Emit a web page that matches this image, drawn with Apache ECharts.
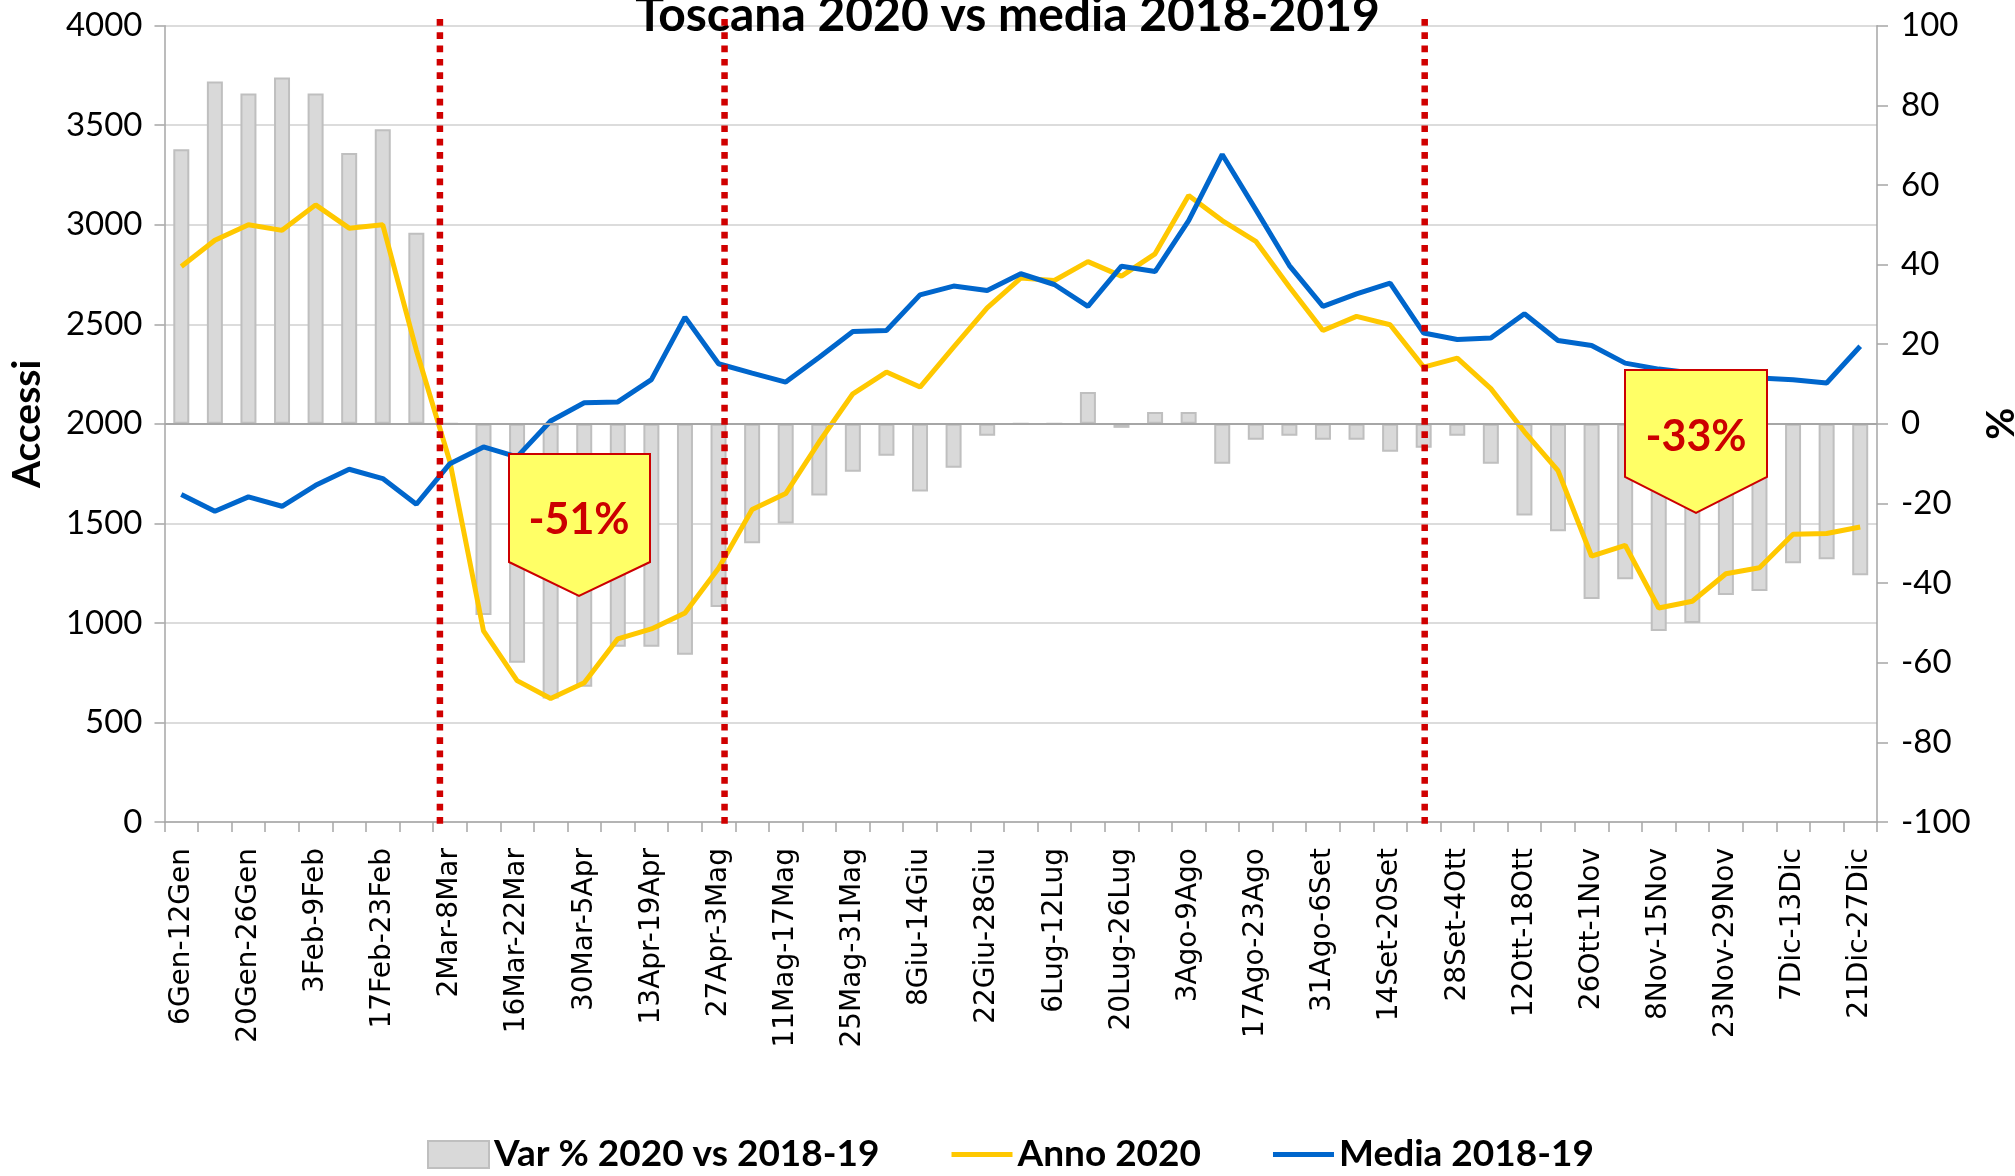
<!DOCTYPE html>
<html>
<head>
<meta charset="utf-8">
<title>Toscana 2020 vs media 2018-2019</title>
<script src="https://cdn.jsdelivr.net/npm/echarts@6/dist/echarts.min.js"></script>
<style>
  html, body { margin: 0; padding: 0; background: #ffffff; }
  #chart { width: 2015px; height: 1176px; }
</style>
</head>
<body>
<div id="chart"></div>
<script>
// settimane 2020 (una ogni due etichette viene mostrata)
const weeks = [
  "6Gen-12Gen", "13Gen-19Gen", "20Gen-26Gen", "27Gen-2Feb", "3Feb-9Feb",
  "10Feb-16Feb", "17Feb-23Feb", "24Feb-1Mar", "2Mar-8Mar", "9Mar-15Mar",
  "16Mar-22Mar", "23Mar-29Mar", "30Mar-5Apr", "6Apr-12Apr", "13Apr-19Apr",
  "20Apr-26Apr", "27Apr-3Mag", "4Mag-10Mag", "11Mag-17Mag", "18Mag-24Mag",
  "25Mag-31Mag", "1Giu-7Giu", "8Giu-14Giu", "15Giu-21Giu", "22Giu-28Giu",
  "29Giu-5Lug", "6Lug-12Lug", "13Lug-19Lug", "20Lug-26Lug", "27Lug-2Ago",
  "3Ago-9Ago", "10Ago-16Ago", "17Ago-23Ago", "24Ago-30Ago", "31Ago-6Set",
  "7Set-13Set", "14Set-20Set", "21Set-27Set", "28Set-4Ott", "5Ott-11Ott",
  "12Ott-18Ott", "19Ott-25Ott", "26Ott-1Nov", "2Nov-8Nov", "8Nov-15Nov",
  "16Nov-22Nov", "23Nov-29Nov", "30Nov-6Dic", "7Dic-13Dic", "14Dic-20Dic",
  "21Dic-27Dic"
];

// Var % 2020 vs 2018-19 (asse destro)
const varPct = [
  69, 86, 83, 87, 83, 68, 74, 48, 0, -48,
  -60, -69, -66, -56, -56, -58, -46, -30, -25, -18,
  -12, -8, -17, -11, -3, 0, 0, 8, -1, 3,
  3, -10, -4, -3, -4, -4, -7, -6, -3, -10,
  -23, -27, -44, -39, -52, -50, -43, -42, -35, -34,
  -38
];

// Accessi anno 2020
const anno2020 = [
  2790, 2922, 3000, 2972, 3100, 2983, 3000, 2370, 1810, 960,
  710, 620, 700, 920, 970, 1050, 1275, 1570, 1650, 1910,
  2151, 2260, 2185, 2385, 2583, 2732, 2720, 2815, 2742, 2854,
  3147, 3021, 2917, 2687, 2469, 2540, 2498, 2285, 2330, 2177,
  1960, 1765, 1335, 1390, 1075, 1109, 1247, 1277, 1445, 1449,
  1482
];

// Accessi media 2018-19
const media1819 = [
  1645, 1561, 1633, 1586, 1691, 1772, 1725, 1596, 1800, 1884,
  1834, 2014, 2106, 2110, 2222, 2536, 2302, 2255, 2210, 2335,
  2464, 2469, 2648, 2692, 2670, 2754, 2700, 2590, 2792, 2765,
  3021, 3353, 3076, 2795, 2590, 2653, 2707, 2456, 2424, 2431,
  2553, 2419, 2394, 2305, 2275, 2255, 2240, 2230, 2222, 2205,
  2390
];

// settimane con le linee tratteggiate rosse (disegnate a mano nell'originale,
// quindi con un piccolo scostamento dal centro della categoria)
const markedWeeks = ["2Mar-8Mar", "27Apr-3Mag", "21Set-27Set"];
const markedShift = [-10, 6, 1];

// scale degli assi
const leftScale = { min: 0, max: 4000, step: 500 };
const rightScale = { min: -100, max: 100, step: 20 };

const FONT = "Lato";
const AXIS_GREY = "#a6a6a6";

const chart = echarts.init(document.getElementById("chart"));

// icona legenda "linea": barra sottile dentro un box 61x27
const lineIcon = "path://M0,0M61,27M0,11L61,11L61,16L0,16Z";

// riquadri gialli con il calo percentuale
const callouts = [
  {
    type: "polygon",
    z: 100,
    shape: { points: [[509, 454], [650, 454], [650, 562], [579, 596], [509, 562]] },
    style: { fill: "#ffff66", stroke: "#cc0000", lineWidth: 2 },
  },
  {
    type: "text",
    z: 101,
    x: 579,
    y: 520,
    style: {
      text: "-51%", fill: "#cc0000", font: "bold 43px Lato",
      textAlign: "center", textVerticalAlign: "middle",
    },
  },
  {
    type: "polygon",
    z: 100,
    shape: { points: [[1625, 370], [1767, 370], [1767, 477], [1696, 513], [1625, 477]] },
    style: { fill: "#ffff66", stroke: "#cc0000", lineWidth: 2 },
  },
  {
    type: "text",
    z: 101,
    x: 1696,
    y: 437,
    style: {
      text: "-33%", fill: "#cc0000", font: "bold 43px Lato",
      textAlign: "center", textVerticalAlign: "middle",
    },
  },
];

const option = {
  animation: false,
  backgroundColor: "#ffffff",
  title: {
    text: "Toscana 2020 vs media 2018-2019",
    left: "center",
    top: -13,
    textStyle: { fontFamily: FONT, fontSize: 48, fontWeight: "bold", color: "#000" },
  },
  grid: { left: 164.5, right: 138, top: 25.7, bottom: 354, outerBoundsMode: "none" },
  legend: {
    left: 427,
    top: 1136,
    padding: 0,
    itemGap: 72,
    itemWidth: 61,
    itemHeight: 27,
    textStyle: { fontFamily: FONT, fontSize: 37, fontWeight: "bold", color: "#000" },
    data: [
      { name: "Var % 2020 vs 2018-19", icon: "rect" },
      { name: "Anno 2020", icon: lineIcon },
      { name: "Media 2018-19", icon: lineIcon },
    ],
  },
  xAxis: {
    type: "category",
    data: weeks,
    boundaryGap: true,
    axisLine: { lineStyle: { color: AXIS_GREY, width: 1.5 } },
    axisTick: { show: true, interval: 0, length: 10, lineStyle: { color: AXIS_GREY, width: 1.5 } },
    axisLabel: {
      interval: 1,
      rotate: 90,
      margin: 26,
      fontFamily: "DejaVu Sans",
      fontSize: 28,
      color: "#000",
    },
  },
  yAxis: [
    {
      type: "value",
      name: "Accessi",
      nameLocation: "middle",
      nameRotate: 90,
      nameGap: 118,
      nameTextStyle: { fontFamily: FONT, fontSize: 39, fontWeight: "bold", color: "#000" },
      min: leftScale.min,
      max: leftScale.max,
      interval: leftScale.step,
      axisLine: { show: true, lineStyle: { color: AXIS_GREY, width: 1.5 } },
      axisTick: { show: true, length: 10, lineStyle: { color: AXIS_GREY, width: 1.5 } },
      axisLabel: {
        margin: 22, fontFamily: FONT, fontSize: 33, color: "#000",
        formatter: (v) => String(v),
      },
      splitLine: { show: true, lineStyle: { color: "#d0d0d0", width: 1.5 } },
    },
    {
      type: "value",
      name: "%",
      nameLocation: "middle",
      nameRotate: 90,
      nameGap: 95,
      nameTextStyle: { fontFamily: FONT, fontSize: 39, fontWeight: "bold", color: "#000" },
      min: rightScale.min,
      max: rightScale.max,
      interval: rightScale.step,
      position: "right",
      axisLine: { show: true, lineStyle: { color: AXIS_GREY, width: 1.5 } },
      axisTick: { show: true, length: 11, lineStyle: { color: AXIS_GREY, width: 1.5 } },
      axisLabel: {
        margin: 24, fontFamily: FONT, fontSize: 33, color: "#000",
        formatter: (v) => String(v),
      },
      splitLine: { show: false },
    },
  ],
  series: [
    {
      name: "Var % 2020 vs 2018-19",
      type: "bar",
      yAxisIndex: 1,
      data: varPct,
      barWidth: 16,
      itemStyle: { color: "#d9d9d9", borderColor: "#bfbfbf", borderWidth: 2 },
      z: 1,
      markLine: {
        silent: true,
        symbol: "none",
        label: { show: false },
        lineStyle: { color: AXIS_GREY, width: 2, type: "solid" },
        data: [{ yAxis: 0 }],
      },
    },
    {
      name: "Anno 2020",
      type: "line",
      data: anno2020,
      symbol: "none",
      lineStyle: { color: "#ffc800", width: 5 },
      itemStyle: { color: "#ffc800" },
      z: 3,
    },
    {
      name: "Media 2018-19",
      type: "line",
      data: media1819,
      symbol: "none",
      lineStyle: { color: "#0066cc", width: 5 },
      itemStyle: { color: "#0066cc" },
      z: 4,
    },
  ],
  graphic: callouts,
};

chart.setOption(option);

// linee tratteggiate rosse: posizione presa dall'asse delle categorie
const redLines = markedWeeks.map((w, i) => {
  const x = chart.convertToPixel({ xAxisIndex: 0 }, w) + markedShift[i];
  return {
    type: "line",
    z: 50,
    silent: true,
    shape: { x1: x, y1: 19, x2: x, y2: 830 },
    style: { stroke: "#d00000", lineWidth: 6.5, lineDash: [6.7, 6.6] },
  };
});
chart.setOption({ graphic: callouts.concat(redLines) });
</script>
</body>
</html>
